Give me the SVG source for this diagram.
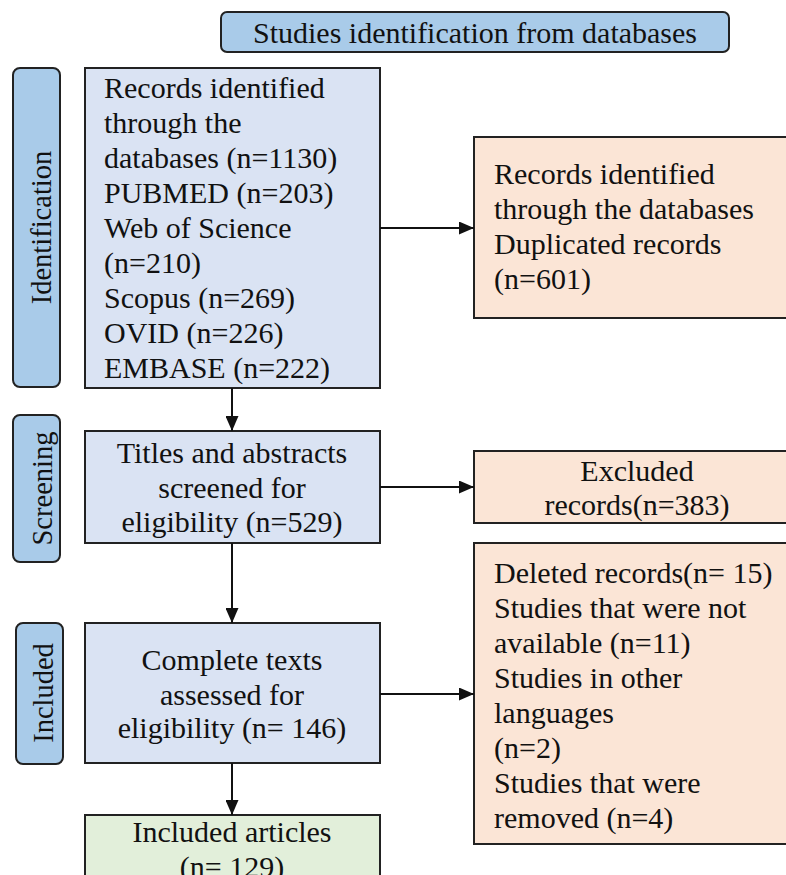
<svg xmlns="http://www.w3.org/2000/svg" width="786" height="875" viewBox="0 0 786 875">
<style>
text{font-family:"Liberation Serif","Times New Roman",serif;fill:#111;font-size:30px}
.lab{font-size:28.5px}
.c{text-anchor:middle}
.box{stroke:#222;stroke-width:2}
.blue{fill:#dae3f3}
.side{fill:#a9cbe9}
.org{fill:#fbe5d6}
.grn{fill:#e2efda}
.con{stroke:#111;stroke-width:2;fill:none;marker-end:url(#ah)}
</style>
<defs>
<marker id="ah" markerUnits="userSpaceOnUse" markerWidth="15" markerHeight="13" refX="15" refY="6.5" orient="auto">
<path d="M0,0 L15,6.5 L0,13 z" fill="#111"/>
</marker>
</defs>
<rect width="786" height="875" fill="#fff"/>
<g id="title">
<rect class="box side" x="221" y="12" width="508" height="40" rx="6"/>
<text class="c" x="475" y="43">Studies identification from databases</text>
</g>
<g id="lab-identification">
<rect class="box side" x="13" y="68" width="47" height="319" rx="7"/>
<text class="lab c" transform="translate(51,227.5) rotate(-90)">Identification</text>
</g>
<g id="lab-screening">
<rect class="box side" x="13" y="415" width="47" height="147" rx="7"/>
<text class="lab c" transform="translate(51.5,488.5) rotate(-90)">Screening</text>
</g>
<g id="lab-included">
<rect class="box side" x="16" y="623" width="47" height="141" rx="7"/>
<text class="lab c" transform="translate(53,693) rotate(-90)">Included</text>
</g>
<g id="n-records">
<rect class="box blue" x="85" y="68" width="295" height="320"/>
<text x="104" y="98">Records identified</text>
<text x="104" y="133">through the</text>
<text x="104" y="168">databases (n=1130)</text>
<text x="104" y="203">PUBMED (n=203)</text>
<text x="104" y="238">Web of Science</text>
<text x="104" y="273">(n=210)</text>
<text x="104" y="308">Scopus (n=269)</text>
<text x="104" y="343">OVID (n=226)</text>
<text x="104" y="378">EMBASE (n=222)</text>
</g>
<g id="n-duplicates">
<rect class="box org" x="474" y="137" width="330" height="181"/>
<text x="494" y="184">Records identified</text>
<text x="494" y="219">through the databases</text>
<text x="494" y="254">Duplicated records</text>
<text x="494" y="289">(n=601)</text>
</g>
<g id="n-screened">
<rect class="box blue" x="85" y="431" width="295" height="112"/>
<text class="c" x="232" y="463">Titles and abstracts</text>
<text class="c" x="232" y="498">screened for</text>
<text class="c" x="232" y="532">eligibility (n=529)</text>
</g>
<g id="n-excluded">
<rect class="box org" x="474" y="451" width="326" height="72"/>
<text class="c" x="637" y="481">Excluded</text>
<text class="c" x="637" y="515">records(n=383)</text>
</g>
<g id="n-fulltext">
<rect class="box blue" x="85" y="623" width="295" height="140"/>
<text class="c" x="232" y="670">Complete texts</text>
<text class="c" x="232" y="705">assessed for</text>
<text class="c" x="232" y="738">eligibility (n= 146)</text>
</g>
<g id="n-removed">
<rect class="box org" x="474" y="543" width="330" height="301"/>
<text x="494" y="583">Deleted records(n= 15)</text>
<text x="494" y="618">Studies that were not</text>
<text x="494" y="653">available (n=11)</text>
<text x="494" y="688">Studies in other</text>
<text x="494" y="723">languages</text>
<text x="494" y="758">(n=2)</text>
<text x="494" y="793">Studies that were</text>
<text x="494" y="828">removed (n=4)</text>
</g>
<g id="n-included">
<rect class="box grn" x="85" y="815" width="295" height="90"/>
<text class="c" x="232" y="842">Included articles</text>
<text class="c" x="232" y="877">(n= 129)</text>
</g>
<g id="connectors">
<line class="con" x1="380" y1="228" x2="474" y2="228"/>
<line class="con" x1="232" y1="388" x2="232" y2="431"/>
<line class="con" x1="380" y1="487" x2="474" y2="487"/>
<line class="con" x1="232" y1="543" x2="232" y2="623"/>
<line class="con" x1="380" y1="694" x2="474" y2="694"/>
<line class="con" x1="232" y1="763" x2="232" y2="815"/>
</g>
</svg>
